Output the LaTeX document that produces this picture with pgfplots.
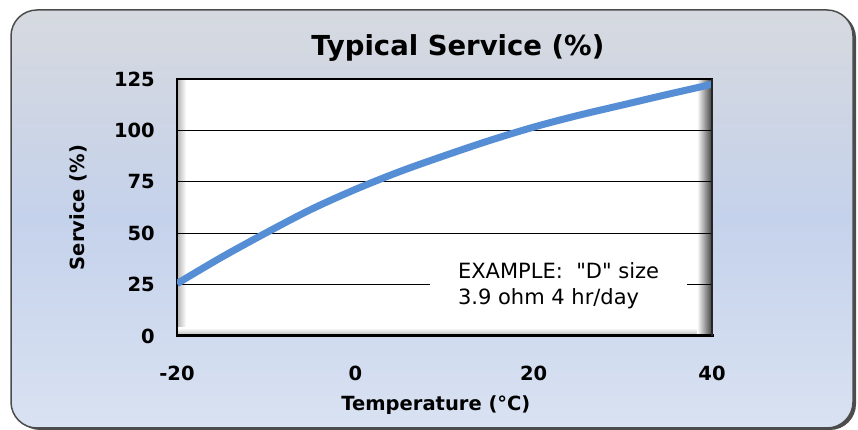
\documentclass[border=0pt]{standalone}
\usepackage{fontspec}
\setmainfont{DejaVu Sans}[Ligatures=TeXOff]
\usepackage{pgfplots}
\pgfplotsset{compat=1.18}
\definecolor{curveblue}{RGB}{85,142,213}
\definecolor{bgtop}{RGB}{214,217,223}
\definecolor{bgmid}{RGB}{197,210,235}
\definecolor{bgbot}{RGB}{217,226,242}

\begin{document}
\begin{tikzpicture}
\useasboundingbox (0pt,0pt) rectangle (858pt,430pt);
% card background with shadow
\fill[black!70, rounded corners=26pt] (14pt,0pt) rectangle (856pt,418pt);
\shade[rounded corners=26pt, top color=bgtop, bottom color=bgbot, middle color=bgmid]
  (11pt,2pt) rectangle (853pt,420pt);
\draw[black!70, line width=1.5pt, rounded corners=26pt] (11pt,2pt) rectangle (853pt,420pt);
% plot area with inner shading
\fill[white] (177pt,94pt) rectangle (712pt,351pt);
\shade[left color=black!30, right color=white] (177pt,94pt) rectangle (186pt,351pt);
\shade[bottom color=black!30, top color=white] (177pt,94pt) rectangle (712pt,102pt);
\shade[left color=white, right color=black!75] (697pt,94pt) rectangle (712pt,351pt);

\begin{axis}[
  at={(177pt,94pt)}, anchor=south west,
  scale only axis, width=535pt, height=257pt,
  xmin=-20, xmax=40, ymin=0, ymax=125,
  xtick={-20,0,20,40}, ytick={0,25,50,75,100,125},
  ymajorgrids, major grid style={black, line width=1.3pt},
  major tick length=0pt,
  axis line style={black, line width=1.2pt},
  /pgf/number format/assume math mode=true,
  tick label style={font=\bfseries\fontsize{19.5}{22}\selectfont},
  xticklabel style={anchor=center, yshift=-37pt},
  yticklabel style={anchor=east, inner sep=0pt, xshift=-22pt},
  every axis title shift=0pt,
  title={Typical Service (\%)},
  title style={at={(axis description cs:0.525,1.12)}, anchor=center,
    font=\bfseries\fontsize{27.5}{32}\selectfont},
  xlabel={Temperature (°C)},
  xlabel style={at={(axis description cs:0.484,-0.268)}, anchor=center,
    font=\bfseries\fontsize{19.5}{22}\selectfont},
  ylabel={Service (\%)},
  ylabel style={at={(axis description cs:-0.184,0.5)}, anchor=center,
    font=\bfseries\fontsize{19.5}{22}\selectfont},
]
\addplot[curveblue, line width=7pt, smooth] coordinates {
  (-20,25.5) (-15,38.3) (-10,50.2) (-5,61.5) (0,71.3) (5,80) (10,87.7)
  (15,95) (20,101.6) (25,107.3) (30,112.4) (35,117.5) (40,122.4)
};
\fill[white] (axis cs:8.4,17) rectangle (axis cs:37.2,33);
\node[anchor=west, align=left, inner sep=0pt,
  font=\fontsize{21}{26}\selectfont] at (axis cs:11.5,24.3)
  {EXAMPLE:\ \ "D" size\\3.9 ohm 4 hr/day};
\end{axis}
% heavier bottom and right frame
\draw[black, line width=3pt] (177pt,94pt) -- (713.5pt,94pt);
\draw[black!85, line width=2pt] (712pt,94pt) -- (712pt,351pt);
\end{tikzpicture}
\end{document}
